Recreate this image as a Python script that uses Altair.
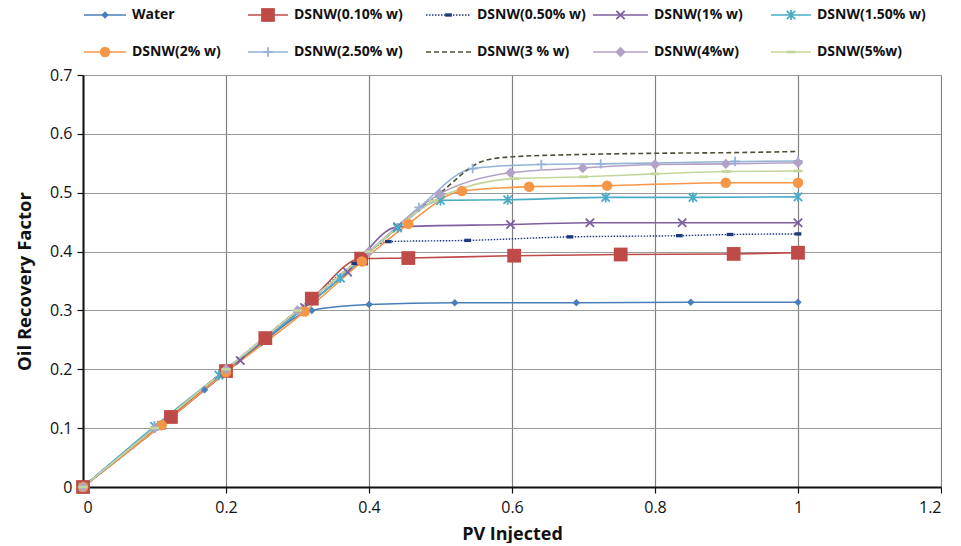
import altair as alt
import pandas as pd

# ---- data: oil recovery factor vs pore volumes injected ----
series_names = [
    "Water", "DSNW(0.10% w)", "DSNW(0.50% w)", "DSNW(1% w)", "DSNW(1.50% w)",
    "DSNW(2% w)", "DSNW(2.50% w)", "DSNW(3 % w)", "DSNW(4%w)", "DSNW(5%w)",
]

water_x = [0, 0.1, 0.17, 0.25, 0.32, 0.4, 0.52, 0.69, 0.85, 1.0]
water_y = [0, 0.1, 0.165, 0.245, 0.30, 0.31, 0.313, 0.313, 0.314, 0.314]

w010_x = [0, 0.123, 0.2, 0.255, 0.32, 0.389, 0.455, 0.603, 0.752, 0.91, 1.0]
w010_y = [0, 0.119, 0.197, 0.253, 0.32, 0.388, 0.389, 0.393, 0.395, 0.396, 0.398]

w050_x = [0, 0.1, 0.2, 0.3, 0.38, 0.427, 0.538, 0.681, 0.834, 0.905, 1.0]
w050_y = [0, 0.1, 0.2, 0.3, 0.38, 0.417, 0.419, 0.425, 0.427, 0.429, 0.430]

w1_x = [0, 0.11, 0.22, 0.31, 0.37, 0.44, 0.598, 0.709, 0.838, 1.0]
w1_y = [0, 0.105, 0.215, 0.305, 0.365, 0.442, 0.446, 0.449, 0.449, 0.449]

w15_x = [0, 0.1, 0.19, 0.36, 0.44, 0.5, 0.594, 0.731, 0.853, 1.0]
w15_y = [0, 0.103, 0.19, 0.355, 0.44, 0.487, 0.488, 0.492, 0.492, 0.493]

w2_x = [0, 0.11, 0.2, 0.31, 0.39, 0.455, 0.53, 0.624, 0.733, 0.899, 1.0]
w2_y = [0, 0.105, 0.195, 0.298, 0.383, 0.447, 0.503, 0.510, 0.512, 0.517, 0.517]

w25_x = [0, 0.1, 0.2, 0.3, 0.4, 0.47, 0.545, 0.641, 0.724, 0.912, 1.0]
w25_y = [0, 0.1, 0.2, 0.3, 0.4, 0.475, 0.541, 0.548, 0.549, 0.553, 0.554]

w3_x = [0, 0.1, 0.2, 0.3, 0.4, 0.5, 0.56, 0.6, 0.7, 0.8, 0.9, 1.0]
w3_y = [0, 0.1, 0.2, 0.3, 0.4, 0.5, 0.554, 0.561, 0.565, 0.567, 0.568, 0.570]

w4_x = [0, 0.1, 0.2, 0.3, 0.4, 0.499, 0.598, 0.699, 0.8, 0.899, 1.0]
w4_y = [0, 0.1, 0.2, 0.3, 0.4, 0.498, 0.534, 0.542, 0.548, 0.549, 0.551]

w5_x = [0, 0.1, 0.2, 0.3, 0.4, 0.49, 0.604, 0.7, 0.8, 0.9, 1.0]
w5_y = [0, 0.1, 0.2, 0.3, 0.4, 0.486, 0.524, 0.527, 0.532, 0.536, 0.537]

series_x = [water_x, w010_x, w050_x, w1_x, w15_x, w2_x, w25_x, w3_x, w4_x, w5_x]
series_y = [water_y, w010_y, w050_y, w1_y, w15_y, w2_y, w25_y, w3_y, w4_y, w5_y]

x_ticks = [0, 0.2, 0.4, 0.6, 0.8, 1.0, 1.2]
y_ticks = [0, 0.1, 0.2, 0.3, 0.4, 0.5, 0.6, 0.7]

# ---- styles per series ----
X_PATH = "M-1,-1L1,1M-1,1L1,-1"
STAR_PATH = "M-1,-1L1,1M-1,1L1,-1M0,-1.2L0,1.2"
PLUS_PATH = "M-1,0L1,0M0,-1L0,1"
BAR_PATH = "M-1,-0.5L1,-0.5L1,0.5L-1,0.5Z"
DASH_PATH = "M-1,-0.3L1,-0.3L1,0.3L-1,0.3Z"

styles = [
    dict(color="#4a7ebb", shape="diamond", size=55, filled=True, dash=None, lw=1.6),
    dict(color="#be4b48", shape="square", size=190, filled=True, dash=None, lw=1.6),
    dict(color="#1f3a7a", shape=BAR_PATH, size=45, filled=True, dash=[1.5, 1.5], lw=1.4),
    dict(color="#7d5fa0", shape=X_PATH, size=70, filled=False, dash=None, lw=1.6),
    dict(color="#4bacc6", shape=STAR_PATH, size=70, filled=False, dash=None, lw=1.6),
    dict(color="#f79646", shape="circle", size=110, filled=True, dash=None, lw=1.6),
    dict(color="#95b3d7", shape=PLUS_PATH, size=90, filled=False, dash=None, lw=1.6),
    dict(color="#4f4f3a", shape=None, size=0, filled=True, dash=[5, 3], lw=1.6),
    dict(color="#b3a2c7", shape="diamond", size=110, filled=True, dash=None, lw=1.6),
    dict(color="#c3d69b", shape=DASH_PATH, size=80, filled=True, dash=None, lw=1.6),
]

FONT = "Open Sans"

x_scale = alt.Scale(domain=[0, 1.2], nice=False)
y_scale = alt.Scale(domain=[0, 0.7], nice=False)

x_axis = alt.Axis(values=x_ticks, format="~g", title="PV Injected", grid=True,
                  gridColor="#808080", gridWidth=1.2, domainColor="#111",
                  domainWidth=2, tickColor="#111", tickSize=6, tickWidth=1.2,
                  labelFont=FONT, labelFontSize=16, labelColor="#111",
                  labelPadding=6, titleFont=FONT, titleFontSize=18,
                  titleFontWeight="bold", titleColor="#111", titlePadding=10)
y_axis = alt.Axis(values=y_ticks, format="~g", title="Oil Recovery Factor", grid=True,
                  gridColor="#9a9a9a", gridWidth=1.2, domainColor="#111",
                  domainWidth=2, tickColor="#111", tickSize=6, tickWidth=1.2,
                  labelFont=FONT, labelFontSize=16, labelColor="#111",
                  labelPadding=5, titleFont=FONT, titleFontSize=18.5,
                  titleFontWeight="bold", titleColor="#111", titlePadding=15)

layers = []
for i, name in enumerate(series_names):
    st = styles[i]
    df = pd.DataFrame({"pv": series_x[i], "rf": series_y[i], "series": name})
    line_kw = dict(interpolate="monotone", color=st["color"], strokeWidth=st["lw"])
    if st["dash"]:
        line_kw["strokeDash"] = st["dash"]
    line = alt.Chart(df).mark_line(**line_kw).encode(
        x=alt.X("pv:Q", scale=x_scale, axis=x_axis),
        y=alt.Y("rf:Q", scale=y_scale, axis=y_axis),
    )
    layers.append(line)
for i, name in enumerate(series_names):
    st = styles[i]
    if st["shape"] is None:
        continue
    df = pd.DataFrame({"pv": series_x[i], "rf": series_y[i], "series": name})
    pt_kw = dict(shape=st["shape"], size=st["size"], filled=st["filled"],
                 color=st["color"], opacity=1)
    if not st["filled"]:
        pt_kw["strokeWidth"] = 1.8
    pts = alt.Chart(df).mark_point(**pt_kw).encode(
        x=alt.X("pv:Q", scale=x_scale),
        y=alt.Y("rf:Q", scale=y_scale),
    )
    layers.append(pts)

main = alt.layer(*layers).properties(width=858, height=412)

# ---- legend: two rows of five entries, line sample with marker and label ----
col_start = [1, 165, 343, 510, 688]
col_len = [42, 40, 45, 55, 40]
row_y = [15, 52]

leg_rows = []
for i, name in enumerate(series_names):
    r, c = divmod(i, 5)
    x0 = col_start[c]
    x1 = x0 + col_len[c]
    leg_rows.append(dict(series=name, x0=x0, x1=x1, xm=(x0 + x1) / 2,
                         xt=x1 + 6, y=row_y[r], idx=i))
leg_df = pd.DataFrame(leg_rows)

lx = alt.Scale(domain=[0, 858], nice=False, zero=False)
ly = alt.Scale(domain=[0, 62], nice=False, reverse=True)

leg_layers = []
for i, name in enumerate(series_names):
    st = styles[i]
    sub = leg_df[leg_df.idx == i]
    rule_kw = dict(color=st["color"], strokeWidth=st["lw"])
    if st["dash"]:
        rule_kw["strokeDash"] = st["dash"]
    leg_layers.append(alt.Chart(sub).mark_rule(**rule_kw).encode(
        x=alt.X("x0:Q", scale=lx, axis=None),
        x2="x1:Q",
        y=alt.Y("y:Q", scale=ly, axis=None),
    ))
    if st["shape"] is not None:
        pt_kw = dict(shape=st["shape"], size=st["size"], filled=st["filled"],
                     color=st["color"], opacity=1)
        if not st["filled"]:
            pt_kw["strokeWidth"] = 1.8
        leg_layers.append(alt.Chart(sub).mark_point(**pt_kw).encode(
            x=alt.X("xm:Q", scale=lx, axis=None),
            y=alt.Y("y:Q", scale=ly, axis=None),
        ))
leg_layers.append(alt.Chart(leg_df).mark_text(
    align="left", baseline="middle", font=FONT, fontSize=14,
    fontWeight="bold", color="#111"
).encode(
    x=alt.X("xt:Q", scale=lx, axis=None),
    y=alt.Y("y:Q", scale=ly, axis=None),
    text="series:N",
))
legend = alt.layer(*leg_layers).properties(width=858, height=62)

chart = alt.vconcat(legend, main, spacing=5).properties(
    padding={"left": 15, "top": 0, "right": 0, "bottom": 0},
    background="white",
).configure_view(stroke=None).resolve_scale(x="independent", y="independent")

chart.save("out.html", embed_options={"renderer": "svg", "actions": False})
